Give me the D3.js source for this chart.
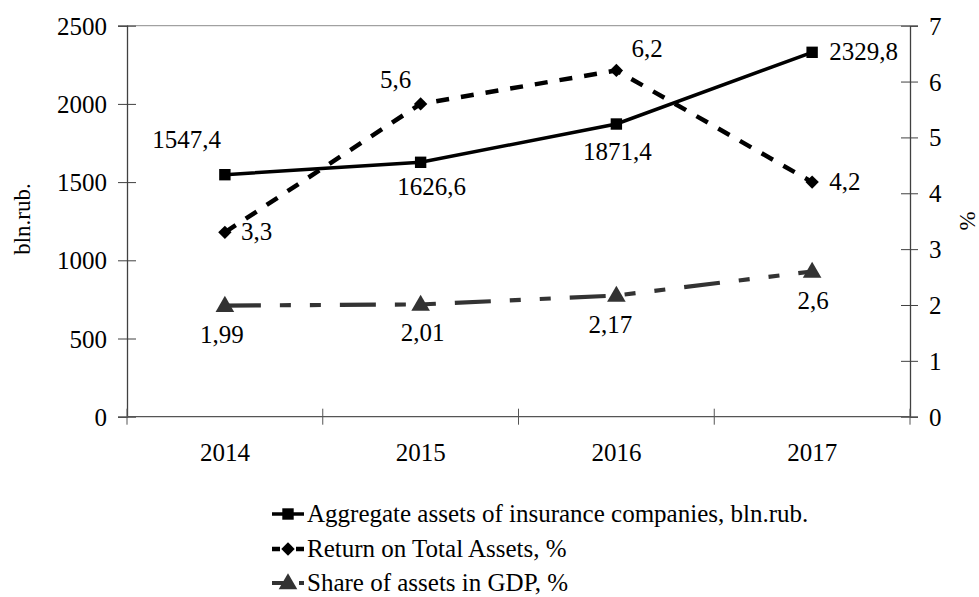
<!DOCTYPE html>
<html><head><meta charset="utf-8">
<script src="https://cdn.jsdelivr.net/npm/d3@7"></script>
<style>
html,body{margin:0;padding:0;background:#fff;}
svg{display:block;}
text{font-family:"Liberation Serif","Times New Roman",serif;fill:#000;}
</style></head>
<body>
<svg id="chart" width="979" height="597"></svg>
<script>
// ---- data ----
const categories = ["2014", "2015", "2016", "2017"];
const assets = [1547.4, 1626.6, 1871.4, 2329.8];   // bln.rub. (left axis)
const roa = [3.3, 5.6, 6.2, 4.2];                  // % (right axis)
const shareGdp = [1.99, 2.01, 2.17, 2.6];          // % (right axis)
const leftTicks = [0, 500, 1000, 1500, 2000, 2500];
const rightTicks = [0, 1, 2, 3, 4, 5, 6, 7];
const seriesNames = [
  "Aggregate assets of insurance companies, bln.rub.",
  "Return on Total Assets, %",
  "Share of assets in GDP, %"
];

// ---- layout ----
const plot = {left: 127, right: 910, top: 25.7, bottom: 416.7};
const FS = 25;
const svg = d3.select("#chart");

const x = d3.scaleBand().domain(categories).range([plot.left, plot.right]).padding(0);
const cx = c => x(c) + x.bandwidth() / 2;
const yL = d3.scaleLinear().domain([0, 2500]).range([plot.bottom, plot.top]);
const yR = d3.scaleLinear().domain([0, 7]).range([plot.bottom, plot.top]);
const fmt = v => String(v).replace(".", ",");

// top border
svg.append("line").attr("x1", plot.left).attr("x2", plot.right)
  .attr("y1", plot.top).attr("y2", plot.top)
  .attr("stroke", "#8c8c8c").attr("stroke-width", 1);

// left axis
const gL = svg.append("g").attr("transform", `translate(${plot.left},0)`)
  .call(d3.axisLeft(yL).tickValues(leftTicks).tickSize(9).tickPadding(11).tickFormat(d => d));
gL.select(".domain").attr("stroke", "#404040").attr("stroke-width", 1.3);
gL.selectAll(".tick line").attr("x1", 9).attr("stroke", "#404040").attr("stroke-width", 1);
gL.selectAll(".tick text").style("font-size", FS + "px").style("font-family", "Liberation Serif").attr("dy", "0.34em");

// right axis
const gR = svg.append("g").attr("transform", `translate(${plot.right},0)`)
  .call(d3.axisRight(yR).tickValues(rightTicks).tickSize(8).tickPadding(11).tickFormat(d => d));
gR.select(".domain").attr("stroke", "#404040").attr("stroke-width", 1.3);
gR.selectAll(".tick line").attr("x1", -9).attr("stroke", "#404040").attr("stroke-width", 1);
gR.selectAll(".tick text").style("font-size", FS + "px").style("font-family", "Liberation Serif").attr("dy", "0.34em");

// bottom axis (ticks at category boundaries)
const boundaries = categories.map(c => x(c)).concat([plot.right]);
svg.append("line").attr("x1", plot.left).attr("x2", plot.right)
  .attr("y1", plot.bottom).attr("y2", plot.bottom)
  .attr("stroke", "#555").attr("stroke-width", 1.3);
svg.selectAll(".xtick").data(boundaries).enter().append("line")
  .attr("x1", d => d).attr("x2", d => d)
  .attr("y1", plot.bottom - 8).attr("y2", plot.bottom + 8)
  .attr("stroke", "#555").attr("stroke-width", 1);
svg.selectAll(".xlab").data(categories).enter().append("text")
  .attr("x", d => cx(d)).attr("y", plot.bottom + 44)
  .attr("text-anchor", "middle").style("font-size", FS + "px").text(d => d);

// axis titles
svg.append("text").attr("transform", "translate(30,219) rotate(-90)")
  .attr("text-anchor", "middle").style("font-size", "23px").text("bln.rub.");
svg.append("text").attr("transform", "translate(975,221) rotate(-90)")
  .attr("text-anchor", "middle").style("font-size", "23px").text("%");

// ---- series ----
const dashROA = "13,12";
const dashShare = "36,19,11,19,11,19";
const shareColor = "#333333";

const lineR = d3.line().x((d, i) => cx(categories[i])).y(d => yR(d));
const lineL = d3.line().x((d, i) => cx(categories[i])).y(d => yL(d));

svg.append("path").datum(shareGdp).attr("d", lineR)
  .attr("fill", "none").attr("stroke", shareColor).attr("stroke-width", 4.2)
  .attr("stroke-dasharray", dashShare);
svg.append("path").datum(roa).attr("d", lineR)
  .attr("fill", "none").attr("stroke", "#000").attr("stroke-width", 4.5)
  .attr("stroke-dasharray", dashROA);
svg.append("path").datum(assets).attr("d", lineL)
  .attr("fill", "none").attr("stroke", "#000").attr("stroke-width", 3.5);

const sym = {
  square: d3.symbol().type(d3.symbolSquare).size(130),
  diamond: d3.symbol().type(d3.symbolSquare).size(90),
  triangle: d3.symbol().type(d3.symbolTriangle).size(150)
};
const diamondT = "rotate(45)";

svg.selectAll(".mA").data(assets).enter().append("path")
  .attr("d", sym.square).attr("fill", "#000")
  .attr("transform", (d, i) => `translate(${cx(categories[i])},${yL(d)})`);
svg.selectAll(".mR").data(roa).enter().append("path")
  .attr("d", sym.diamond).attr("fill", "#000")
  .attr("transform", (d, i) => `translate(${cx(categories[i])},${yR(d)}) ${diamondT}`);
svg.selectAll(".mS").data(shareGdp).enter().append("path")
  .attr("d", sym.triangle).attr("fill", shareColor)
  .attr("transform", (d, i) => `translate(${cx(categories[i])},${yR(d) + 1})`);

// ---- data labels (placement: [dx, dy, anchor]) ----
const placeA = [[-4, -27, "end"], [11, 33, "middle"], [1, 36, "middle"], [17, 8, "start"]];
const placeR = [[16, 8, "start"], [-25, -16, "middle"], [15, -13, "start"], [17, 8, "start"]];
const placeS = [[-3, 37, "middle"], [2, 37, "middle"], [-6, 38, "middle"], [1, 38, "middle"]];

function labels(vals, yScale, place) {
  svg.append("g").selectAll("text").data(vals).enter().append("text")
    .attr("x", (d, i) => cx(categories[i]) + place[i][0])
    .attr("y", (d, i) => yScale(d) + place[i][1])
    .attr("text-anchor", (d, i) => place[i][2])
    .style("font-size", FS + "px").text(d => fmt(d));
}
labels(assets, yL, placeA);
labels(roa, yR, placeR);
labels(shareGdp, yR, placeS);

// ---- legend ----
const legX1 = 272, legX2 = 304, legTextX = 307;
const legY = [514, 549, 583];
const legStyles = [
  {dash: null, color: "#000", sym: sym.square, w: 3.5, t: ""},
  {dash: "8,16,8", color: "#000", sym: sym.diamond, w: 4.5, t: diamondT},
  {dash: "20,7,6", color: shareColor, sym: sym.triangle, w: 4.2, t: ""}
];
const leg = svg.append("g");
seriesNames.forEach((name, i) => {
  const s = legStyles[i];
  const ln = leg.append("line").attr("x1", legX1).attr("x2", legX2)
    .attr("y1", legY[i]).attr("y2", legY[i])
    .attr("stroke", s.color).attr("stroke-width", s.w);
  if (s.dash) ln.attr("stroke-dasharray", s.dash);
  leg.append("path").attr("d", s.sym).attr("fill", s.color)
    .attr("transform", `translate(${(legX1 + legX2) / 2},${legY[i] + (i === 2 ? 1 : 0)}) ${s.t}`);
  leg.append("text").attr("x", legTextX).attr("y", legY[i] + 8)
    .style("font-size", FS + "px").text(name);
});
</script>
</body></html>
